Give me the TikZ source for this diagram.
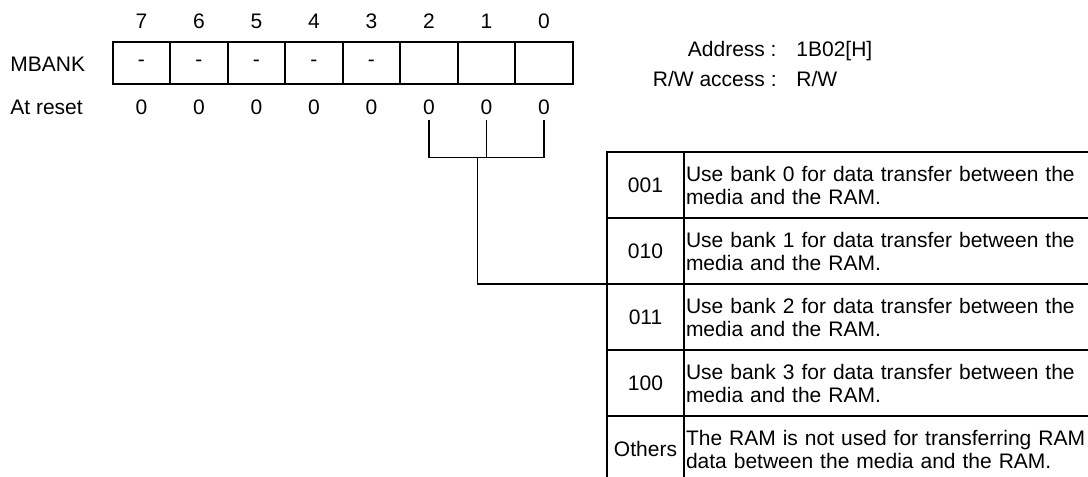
\documentclass[tikz,border=0pt]{standalone}
\usepackage{fontspec}
\setmainfont{Liberation Sans}
\usetikzlibrary{positioning}

\begin{document}
\begin{tikzpicture}[x=0.5pt, y=-0.5pt,
    every node/.style={font=\fontsize{10.5}{11.5}\selectfont},
    txt/.style={inner sep=0pt},
    bitcell/.style={draw, line width=0.9pt, outer sep=0pt, inner sep=0pt,
      minimum width=28.75pt, minimum height=21.3pt},
    resetval/.style={inner sep=0pt, minimum height=13pt},
    codecell/.style={draw, line width=0.9pt, outer sep=0pt, inner sep=0pt,
      minimum width=38.5pt, minimum height=33pt},
    desccell/.style={draw, line width=0.9pt, outer sep=0pt, inner xsep=1pt,
      inner ysep=0pt, text width=206pt, align=left, minimum height=33pt},
    link/.style={line width=0.7pt}]
    \useasboundingbox (0,0) rectangle (1088,477);
    \clip (0,0) rectangle (1088,477);

    \node[txt, anchor=west] (mbank) at (10,64) {MBANK};
    \node[txt, anchor=west] (atreset) at (10,107) {At reset};

    \foreach \b [evaluate=\b as \x using {141.45+57.5*(7-\b)}] in {7,...,0} {
      \node (n\b) at (\x,21) {\b};
      \node[bitcell] (b\b) at (\x,63) {\ifnum\b>2 -\fi};
      \node[resetval] (r\b) at (\x,107) {0};
    }

    \node[txt, anchor=base east] (addrkey) at (777,56.5) {Address :};
    \node[txt, anchor=base west] (addrval) at (796,56.5) {1B02[H]};
    \node[txt, anchor=base east] (rwkey) at (777,86.5) {R/W access :};
    \node[txt, anchor=base west] (rwval) at (796,86.5) {R/W};

    \node[codecell] (c001) at (645.5,185) {001};
    \node[codecell, below=0pt of c001] (c010) {010};
    \node[codecell, below=0pt of c010] (c011) {011};
    \node[codecell, below=0pt of c011] (c100) {100};
    \node[codecell, below=0pt of c100] (cother) {Others};

    \node[desccell, right=0pt of c001] (d001) {Use bank 0 for data transfer between the\\media and the RAM.};
    \node[desccell, right=0pt of c010] (d010) {Use bank 1 for data transfer between the\\media and the RAM.};
    \node[desccell, right=0pt of c011] (d011) {Use bank 2 for data transfer between the\\media and the RAM.};
    \node[desccell, right=0pt of c100] (d100) {Use bank 3 for data transfer between the\\media and the RAM.};
    \node[desccell, right=0pt of cother] (dother) {The RAM is not used for transferring RAM\\data between the media and the RAM.};

    \coordinate (hub) at (477.3,157.3);
    \draw[link] (r2.south) -- (r2.south |- hub) -- (r0.south |- hub) -- (r0.south);
    \draw[link] (r1.south) -- (r1.south |- hub);
    \draw[link] (hub) |- (c011.north west);
\end{tikzpicture}
\end{document}
